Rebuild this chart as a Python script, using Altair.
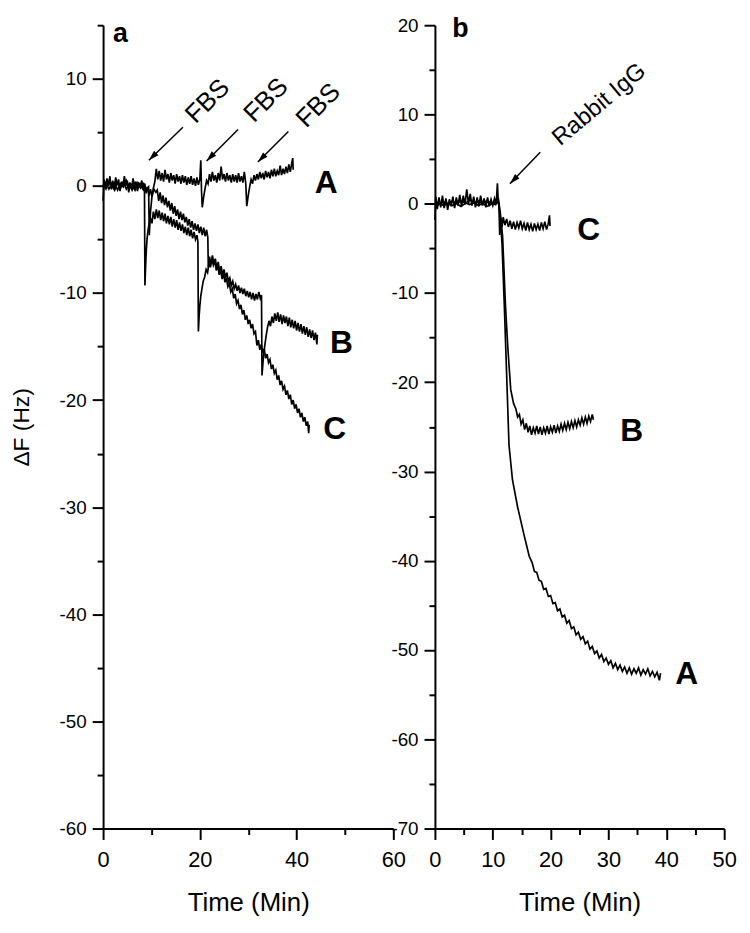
import altair as alt
import pandas as pd

# ---------------- panel a ----------------
a_A_t = [0.0,0.2,0.5,0.8,1.1,1.4,1.7,2.0,2.3,2.6,2.9,3.2,3.5,3.8,4.1,4.4,4.7,5.0,5.3,5.6,5.9,6.2,6.5,6.8,7.1,7.4,7.7,8.0,8.3,8.6,8.9,9.2,9.5,9.8,10.1,10.4,10.7,11.0,11.3,11.6,11.9,12.2,12.5,12.8,13.1,13.4,13.7,14.0,14.3,14.6,14.9,15.2,15.5,15.8,16.1,16.4,16.7,17.0,17.3,17.6,17.9,18.2,18.5,18.8,19.1,19.4,19.7,20.0,20.2,20.35,20.5,20.8,21.1,21.4,21.7,22.0,22.3,22.6,22.9,23.2,23.5,23.8,24.1,24.4,24.7,25.0,25.3,25.6,25.9,26.2,26.5,26.8,27.1,27.4,27.7,28.0,28.3,28.6,28.9,29.2,29.5,29.7,30.0,30.3,30.6,30.9,31.2,31.5,31.8,32.1,32.4,32.7,33.0,33.3,33.6,33.9,34.2,34.5,34.8,35.1,35.4,35.7,36.0,36.3,36.6,36.9,37.2,37.5,37.8,38.1,38.4,38.7,39.0,39.2,39.3]
a_A_v = [-1.4,0.6,-0.2,0.7,0.0,0.9,-0.3,0.5,-0.4,0.8,0.1,0.6,-0.5,0.4,-0.1,0.9,0.0,0.5,-0.6,0.3,-0.2,0.7,-0.3,0.4,-0.5,0.3,-0.2,0.5,-0.4,0.2,-0.7,-0.1,-0.9,-0.3,-1.0,-0.2,0.4,1.6,0.6,1.4,0.5,1.2,0.4,1.5,0.6,1.1,0.3,1.2,0.5,1.0,0.2,1.1,0.4,0.9,0.2,1.0,0.3,0.9,0.1,0.8,0.2,0.9,0.1,0.7,0.0,0.8,0.1,0.6,2.4,-0.5,-2.0,-1.0,-0.2,0.5,0.2,1.1,0.4,1.3,0.5,1.0,0.3,1.2,0.5,1.8,0.6,1.1,0.4,1.2,0.5,1.0,0.3,1.1,0.4,1.0,0.3,1.2,0.4,0.9,0.3,1.3,0.2,-1.9,-0.9,-0.1,0.6,0.2,1.0,0.5,1.1,0.6,1.3,0.7,1.2,0.6,1.4,0.8,1.3,0.7,1.5,0.9,1.6,0.9,1.4,1.0,1.9,1.0,1.6,1.1,1.8,1.2,2.0,1.3,2.1,2.6,1.5]

a_B_t = [0.0,0.6,1.2,1.8,2.4,3.0,3.6,4.2,4.8,5.4,6.0,6.6,7.2,7.8,8.4,9.0,9.4,9.55,9.8,10.1,10.5,10.9,11.2,11.5,11.8,12.1,12.4,12.7,13.0,13.3,13.6,13.9,14.2,14.5,14.8,15.1,15.4,15.7,16.0,16.3,16.6,16.9,17.2,17.5,17.8,18.1,18.4,18.7,19.0,19.3,19.6,19.9,20.2,20.5,20.8,21.1,21.4,21.65,21.75,22.0,22.3,22.6,22.9,23.2,23.5,23.8,24.1,24.4,24.7,25.0,25.3,25.6,25.9,26.2,26.5,26.8,27.1,27.4,27.7,28.0,28.3,28.6,28.9,29.2,29.5,29.8,30.1,30.4,30.7,31.0,31.3,31.6,31.9,32.2,32.5,32.75,32.85,33.1,33.4,33.7,34.0,34.3,34.6,34.9,35.2,35.5,35.8,36.1,36.4,36.7,37.0,37.3,37.6,37.9,38.2,38.5,38.8,39.1,39.4,39.7,40.0,40.3,40.6,40.9,41.2,41.5,41.8,42.1,42.4,42.7,43.0,43.3,43.6,43.9,44.2,44.3]
a_B_v = [0.2,-0.3,0.4,-0.2,0.3,-0.4,0.2,-0.1,0.5,-0.3,0.1,-0.4,0.3,-0.2,0.2,-0.3,-0.1,-4.6,-2.4,-1.0,-0.3,-0.6,-0.4,-1.4,-0.6,-1.6,-0.9,-1.8,-1.1,-2.0,-1.4,-2.3,-1.6,-2.6,-1.9,-2.8,-2.2,-3.1,-2.4,-3.2,-2.6,-3.4,-2.9,-3.7,-3.1,-3.9,-3.3,-4.1,-3.5,-4.2,-3.6,-4.4,-3.8,-4.6,-3.9,-4.7,-4.1,-4.8,-7.6,-6.6,-7.3,-6.5,-7.2,-6.8,-7.7,-7.1,-8.0,-7.5,-8.3,-7.8,-8.6,-8.1,-8.9,-8.6,-9.3,-8.9,-9.6,-9.2,-9.8,-9.3,-10.0,-9.5,-10.1,-9.6,-10.3,-9.8,-10.4,-9.9,-10.6,-10.0,-10.7,-10.1,-10.6,-9.9,-10.5,-10.2,-17.7,-16.2,-15.0,-14.0,-13.2,-12.6,-13.1,-12.2,-12.8,-11.9,-12.6,-11.8,-12.7,-12.0,-12.9,-12.1,-12.8,-12.2,-13.1,-12.3,-13.2,-12.5,-13.3,-12.6,-13.5,-12.8,-13.6,-12.9,-13.8,-13.1,-13.9,-13.2,-14.1,-13.4,-14.2,-13.5,-14.4,-13.7,-14.8,-13.9]

a_C_t = [0.0,0.6,1.2,1.8,2.4,3.0,3.6,4.2,4.8,5.4,6.0,6.6,7.2,7.8,8.3,8.55,8.65,8.8,8.95,9.1,9.3,9.5,9.8,10.1,10.4,10.7,11.0,11.3,11.6,11.9,12.2,12.5,12.8,13.1,13.4,13.7,14.0,14.3,14.6,14.9,15.2,15.5,15.8,16.1,16.4,16.7,17.0,17.3,17.6,17.9,18.2,18.5,18.8,19.1,19.4,19.6,19.7,19.85,20.0,20.2,20.4,20.7,21.0,21.3,21.6,21.9,22.2,22.5,22.8,23.1,23.4,23.7,24.0,24.3,24.6,24.9,25.2,25.5,25.8,26.1,26.4,26.7,27.0,27.3,27.6,27.9,28.2,28.5,28.8,29.1,29.4,29.7,30.0,30.3,30.6,30.9,31.2,31.5,31.8,32.1,32.4,32.7,33.0,33.3,33.6,33.9,34.2,34.5,34.8,35.1,35.4,35.7,36.0,36.3,36.6,36.9,37.2,37.5,37.8,38.1,38.4,38.7,39.0,39.3,39.6,39.9,40.2,40.5,40.8,41.1,41.4,41.7,42.0,42.3,42.5,42.6]
a_C_v = [-0.2,0.3,-0.3,0.2,-0.4,0.3,-0.2,0.4,-0.3,0.2,-0.4,0.3,-0.2,0.2,-0.3,0.1,-9.3,-7.4,-5.9,-4.9,-4.1,-3.6,-3.0,-3.5,-2.4,-3.1,-2.2,-3.0,-2.3,-3.2,-2.5,-3.3,-2.6,-3.5,-2.8,-3.6,-2.9,-3.8,-3.1,-3.9,-3.2,-4.1,-3.4,-4.2,-3.6,-4.4,-3.8,-4.6,-3.9,-4.7,-4.1,-4.9,-4.3,-5.0,-4.6,-5.2,-13.6,-12.2,-11.2,-10.3,-9.7,-8.9,-8.5,-7.8,-8.1,-7.2,-7.6,-6.8,-7.4,-7.0,-7.9,-7.4,-8.3,-7.8,-8.7,-8.2,-9.0,-8.6,-9.4,-9.1,-9.9,-9.6,-10.5,-10.1,-11.0,-10.7,-11.5,-11.1,-12.0,-11.6,-12.5,-12.1,-12.9,-12.5,-13.3,-12.9,-13.8,-13.6,-14.9,-14.4,-15.3,-14.8,-15.6,-15.2,-16.1,-15.7,-16.5,-16.2,-17.1,-16.7,-17.5,-17.2,-18.1,-17.7,-18.6,-18.2,-19.0,-18.7,-19.5,-19.1,-19.9,-19.5,-20.4,-20.0,-20.8,-20.4,-21.2,-20.8,-21.6,-21.2,-22.0,-21.6,-22.4,-22.0,-23.1,-22.3]

a_label_text = ["A", "B", "C"]
a_label_t = [46.1, 49.25, 47.9]
a_label_v = [0.3, -14.7, -22.7]

fbs_text = ["FBS", "FBS", "FBS"]
fbs_text_t = [21.6, 33.7, 44.5]
fbs_text_v = [7.9, 8.0, 7.5]
fbs_arrow_t1 = [16.5, 27.9, 38.3]
fbs_arrow_v1 = [5.47, 5.26, 5.07]
fbs_arrow_t2 = [9.47, 21.4, 32.0]
fbs_arrow_v2 = [2.39, 2.33, 2.23]

# ---------------- panel b ----------------
b_A_t = [0.0,0.15,0.4,0.7,1.0,1.3,1.6,1.9,2.2,2.5,2.8,3.1,3.4,3.7,4.0,4.3,4.6,4.9,5.2,5.5,5.8,6.1,6.4,6.7,7.0,7.3,7.6,7.9,8.2,8.5,8.8,9.1,9.4,9.7,10.0,10.3,10.6,10.8,10.95,11.1,11.3,11.6,12.0,12.4,12.8,13.4,14.3,15.4,16.3,16.8,17.2,17.6,18.0,18.4,18.8,19.2,19.6,20.0,20.4,20.8,21.2,21.6,22.0,22.4,22.8,23.2,23.6,24.0,24.4,24.8,25.2,25.6,26.0,26.4,26.8,27.2,27.6,28.0,28.4,28.8,29.2,29.6,30.0,30.4,30.8,31.2,31.6,32.0,32.4,32.8,33.2,33.6,34.0,34.4,34.8,35.2,35.6,36.0,36.4,36.8,37.2,37.6,38.0,38.4,38.8,39.0]
b_A_v = [-1.8,0.8,-0.6,0.7,-0.4,0.9,-0.5,0.6,-0.7,0.5,-0.3,0.8,-0.5,0.7,-0.2,1.0,-0.3,0.9,-0.1,1.6,0.0,1.1,-0.2,0.8,-0.4,0.7,-0.3,0.9,-0.2,0.6,-0.4,0.7,-0.3,0.5,-0.2,0.6,0.0,2.3,0.2,-0.5,-1.5,-4.5,-11.5,-19.2,-27.0,-30.9,-34.0,-37.1,-39.5,-40.2,-41.2,-41.3,-42.2,-42.3,-43.2,-43.1,-44.0,-43.9,-44.8,-44.7,-45.6,-45.4,-46.3,-46.1,-47.0,-46.7,-47.6,-47.4,-48.3,-48.0,-48.8,-48.5,-49.3,-49.0,-49.9,-49.6,-50.4,-50.1,-50.9,-50.5,-51.3,-50.9,-51.6,-51.2,-52.0,-51.5,-52.2,-51.7,-52.4,-51.9,-52.6,-52.0,-52.7,-52.1,-52.6,-52.0,-52.8,-52.2,-52.7,-52.1,-52.9,-52.4,-53.0,-52.5,-53.4,-52.6]

b_B_t = [0.0,1.5,3.0,4.5,6.0,7.5,9.0,10.5,11.0,11.3,11.7,12.2,12.6,13.1,13.6,14.0,14.3,14.6,14.9,15.2,15.5,15.8,16.1,16.4,16.7,17.0,17.3,17.6,17.9,18.2,18.5,18.8,19.1,19.4,19.7,20.0,20.3,20.6,20.9,21.2,21.5,21.8,22.1,22.4,22.7,23.0,23.3,23.6,23.9,24.2,24.5,24.8,25.1,25.4,25.7,26.0,26.3,26.6,26.9,27.2,27.4]
b_B_v = [0.3,-0.2,0.3,-0.3,0.4,-0.2,0.3,-0.1,0.4,-1.0,-3.7,-11.5,-16.1,-20.8,-22.4,-23.0,-23.9,-23.6,-24.7,-24.2,-25.3,-24.6,-25.6,-24.9,-25.9,-25.1,-25.7,-24.9,-25.8,-25.0,-25.9,-25.1,-25.7,-24.9,-25.8,-25.0,-25.6,-24.8,-25.7,-24.9,-25.5,-24.7,-25.4,-24.6,-25.3,-24.5,-25.2,-24.4,-25.1,-24.3,-25.0,-24.2,-24.8,-24.0,-24.7,-23.9,-24.6,-23.8,-24.4,-23.6,-24.2]

b_C_t = [0.0,1.5,3.0,4.5,6.0,7.5,9.0,10.5,11.05,11.2,11.4,11.6,11.8,12.1,12.4,12.7,13.0,13.3,13.6,13.9,14.2,14.5,14.8,15.1,15.4,15.7,16.0,16.3,16.6,16.9,17.2,17.5,17.8,18.1,18.4,18.7,19.0,19.3,19.6,19.8,19.9]
b_C_v = [-0.3,0.2,-0.2,0.3,-0.1,0.3,-0.3,0.2,0.1,-3.5,-1.6,-2.6,-1.5,-2.4,-1.7,-2.6,-1.9,-2.8,-2.0,-2.9,-2.1,-2.7,-1.9,-2.8,-2.2,-3.0,-2.1,-2.9,-2.3,-3.1,-2.2,-2.9,-2.3,-3.0,-2.1,-2.8,-2.0,-2.9,-2.2,-1.3,-2.5]

b_label_text = ["C", "B", "A"]
b_label_t = [26.6, 34.0, 43.5]
b_label_v = [-2.9, -25.5, -52.7]

igg_text = ["Rabbit IgG"]
igg_text_t = [28.4]
igg_text_v = [11.1]
igg_arrow_t1 = [18.2]
igg_arrow_v1 = [5.77]
igg_arrow_t2 = [12.96]
igg_arrow_v2 = [2.25]

panel_letters = ["a", "b"]
panel_letter_t = [3.6, 4.4]
panel_letter_v = [14.2, 19.6]

# ---------------- styling ----------------
FONT = "Liberation Sans"
NARROW = "Liberation Sans Narrow, Arial Narrow, Liberation Sans"
ARROW_HEAD = "M0,0L-0.6,2L0.6,2Z"


def traces(parts):
    frames = []
    for name, ts, vs in parts:
        frames.append(pd.DataFrame({"t": ts, "v": vs, "series": name,
                                    "i": list(range(len(ts)))}))
    return pd.concat(frames, ignore_index=True)


COMMON = dict(domainColor="black", domainWidth=2, tickColor="black", tickWidth=2,
              grid=False, labelFlush=False, labelOverlap=False)


def major_x(values):
    return alt.Axis(values=values, labelExpr="'' + datum.value", tickSize=11,
                    title="Time (Min)", titleFont=NARROW, titleFontSize=26,
                    titleFontWeight="normal", titleColor="black", titlePadding=20,
                    labelFont=NARROW, labelFontSize=22, labelColor="black",
                    labelPadding=10, orient="bottom", **COMMON)


def minor_x(values):
    return alt.Axis(values=values, labels=False, tickSize=6, title=None,
                    domain=False, orient="bottom", tickColor="black", tickWidth=2,
                    grid=False)


def major_y(values, title):
    kw = dict(values=values, labelExpr="'' + datum.value", tickSize=11,
              labelFont=FONT, labelFontSize=19, labelColor="black", labelPadding=6,
              orient="left", **COMMON)
    if title:
        kw.update(title=title, titleFont=FONT, titleFontSize=23, titleFontWeight="normal",
                  titleColor="black", titlePadding=26)
    else:
        kw.update(title=None)
    return alt.Axis(**kw)


def minor_y(values):
    return alt.Axis(values=values, labels=False, tickSize=6, title=None,
                    domain=False, orient="left", tickColor="black", tickWidth=2,
                    grid=False)


def panel(df, xdom, ydom, xmaj, xmin, ymaj, ymin, ytitle, labels, ann_text, arrows,
          text_angle, text_size, letter, width):
    xs = alt.Scale(domain=xdom, nice=False, zero=False)
    ys = alt.Scale(domain=ydom, nice=False, zero=False)
    ticks_minor = alt.Chart(df).mark_line(strokeOpacity=0).encode(
        x=alt.X("t:Q", scale=xs, axis=minor_x(xmin)),
        y=alt.Y("v:Q", scale=ys, axis=minor_y(ymin)),
        detail="series:N",
    )
    lines = alt.Chart(df).mark_line(color="black", strokeWidth=1.7,
                                    strokeJoin="miter").encode(
        x=alt.X("t:Q", scale=xs, axis=major_x(xmaj)),
        y=alt.Y("v:Q", scale=ys, axis=major_y(ymaj, ytitle)),
        detail="series:N",
        order="i:Q",
    )
    lab = alt.Chart(labels).mark_text(font=FONT, fontSize=32, fontWeight="bold",
                                      color="black", align="center", baseline="middle").encode(
        x=alt.X("t:Q", axis=None), y=alt.Y("v:Q", axis=None), text="label:N")
    ann = alt.Chart(ann_text).mark_text(font=FONT, fontSize=text_size, color="black",
                                        align="center", baseline="middle",
                                        angle=text_angle).encode(
        x=alt.X("t:Q", axis=None), y=alt.Y("v:Q", axis=None), text="label:N")
    shafts = alt.Chart(arrows).mark_rule(color="black", strokeWidth=1.5).encode(
        x=alt.X("t1:Q", axis=None), y=alt.Y("v1:Q", axis=None), x2="t2:Q", y2="v2:Q")
    heads = alt.Chart(arrows).mark_point(shape=ARROW_HEAD, filled=True, size=110,
                                         color="black", opacity=1, angle=225,
                                         strokeWidth=0).encode(
        x=alt.X("t2:Q", axis=None), y=alt.Y("v2:Q", axis=None))
    let = alt.Chart(letter).mark_text(font=FONT, fontSize=27, fontWeight="bold",
                                      color="black", align="center", baseline="middle").encode(
        x=alt.X("t:Q", axis=None), y=alt.Y("v:Q", axis=None), text="label:N")
    return alt.layer(ticks_minor, lines, shafts, heads, ann, lab, let).resolve_axis(
        x="independent", y="independent").properties(width=width, height=811)


df_a = traces([("A", a_A_t, a_A_v), ("B", a_B_t, a_B_v), ("C", a_C_t, a_C_v)])
df_b = traces([("A", b_A_t, b_A_v), ("B", b_B_t, b_B_v), ("C", b_C_t, b_C_v)])

lab_a = pd.DataFrame({"label": a_label_text, "t": a_label_t, "v": a_label_v})
lab_b = pd.DataFrame({"label": b_label_text, "t": b_label_t, "v": b_label_v})
fbs = pd.DataFrame({"label": fbs_text, "t": fbs_text_t, "v": fbs_text_v})
igg = pd.DataFrame({"label": igg_text, "t": igg_text_t, "v": igg_text_v})
arr_a = pd.DataFrame({"t1": fbs_arrow_t1, "v1": fbs_arrow_v1, "t2": fbs_arrow_t2, "v2": fbs_arrow_v2})
arr_b = pd.DataFrame({"t1": igg_arrow_t1, "v1": igg_arrow_v1, "t2": igg_arrow_t2, "v2": igg_arrow_v2})
let_a = pd.DataFrame({"label": [panel_letters[0]], "t": [panel_letter_t[0]], "v": [panel_letter_v[0]]})
let_b = pd.DataFrame({"label": [panel_letters[1]], "t": [panel_letter_t[1]], "v": [panel_letter_v[1]]})

pa = panel(df_a, [0, 60], [-60, 15],
           [0, 20, 40, 60], [10, 30, 50],
           list(range(-60, 11, 10)), list(range(-55, 16, 10)),
           "ΔF (Hz)", lab_a, fbs, arr_a, 315, 26, let_a, 293)
pb = panel(df_b, [0, 50], [-70, 20],
           list(range(0, 51, 10)), list(range(5, 50, 10)),
           list(range(-70, 21, 10)), list(range(-65, 20, 10)),
           None, lab_b, igg, arr_b, 320, 24, let_b, 292)

chart = alt.hconcat(pa, pb, spacing=42, bounds="flush").properties(
    padding={"left": 2, "top": 2, "right": 5, "bottom": 5},
    background="white",
).configure_view(stroke=None)

chart.save("out.html", embed_options={"renderer": "svg", "actions": False})
